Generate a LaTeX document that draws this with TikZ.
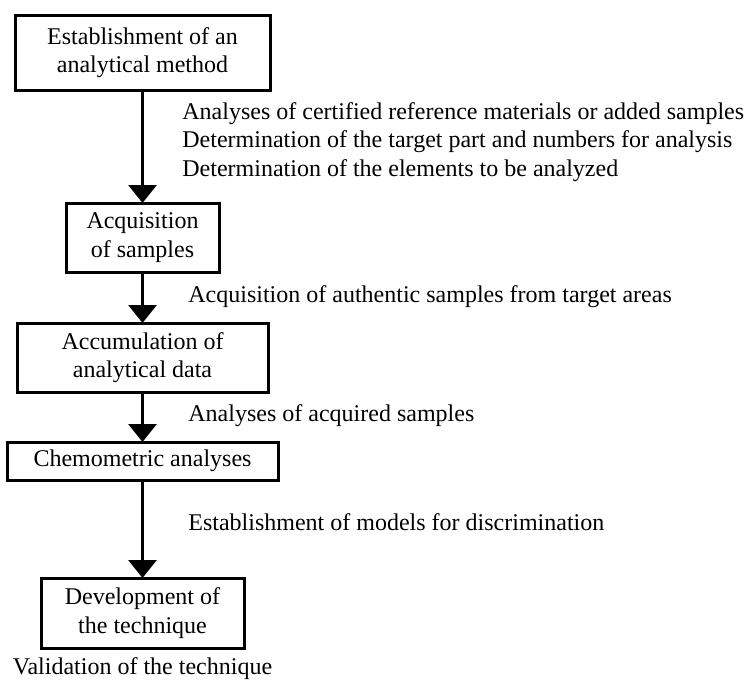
\documentclass[tikz,border=0pt]{standalone}
\usepackage{fontspec}
\setmainfont{Liberation Serif}
\usetikzlibrary{arrows.meta,positioning}

\begin{document}
\begin{tikzpicture}[x=0.5pt,y=-0.5pt,
		Box/.style={rectangle,line width=1.5pt,draw,align=center,inner sep=0pt,outer sep=0pt},
		Note/.style={align=left,inner sep=0pt,anchor=west},
		Arrow/.style={-{Triangle[length=9pt,width=14pt]},line width=1.5pt}]
		\fontsize{12}{14.3}\selectfont
		\useasboundingbox (0,0) rectangle (745,682);
		% boxes
		\node[Box,minimum width=127.5pt,minimum height=37.5pt] (Method) at (142.5,52.5) {Establishment of an\\analytical method};
		\node[Box,minimum width=76.5pt,minimum height=34.5pt] (Samples) [below=56.5pt of Method] {Acquisition\\of samples};
		\node[Box,minimum width=125.5pt,minimum height=34.5pt] (Data) [below=25.5pt of Samples] {Accumulation of\\analytical data};
		\node[Box,minimum width=135.5pt,minimum height=19pt] (Chemo) [below=25pt of Data] {Chemometric analyses};
		\node[Box,minimum width=101.5pt,minimum height=35pt] (Tech) [below=49pt of Chemo] {Development of\\the technique};
		% notes
		\node[Note] (Cert) at (182,142) {Analyses of certified reference materials or added samples\\Determination of the target part and numbers for analysis\\Determination of the elements to be analyzed};
		\node[Note] (Auth) at (188,297) {Acquisition of authentic samples from target areas};
		\node[Note] (Acq) at (188,416) {Analyses of acquired samples};
		\node[Note] (Model) at (188,522) {Establishment of models for discrimination};
		\node[inner sep=0pt] (Valid) [below=4.5pt of Tech] {Validation of the technique};
		% connections
		\draw[Arrow] (Method) -- (Samples);
		\draw[Arrow] (Samples) -- (Data);
		\draw[Arrow] (Data) -- (Chemo);
		\draw[Arrow] (Chemo) -- (Tech);
	\end{tikzpicture}
\end{document}
